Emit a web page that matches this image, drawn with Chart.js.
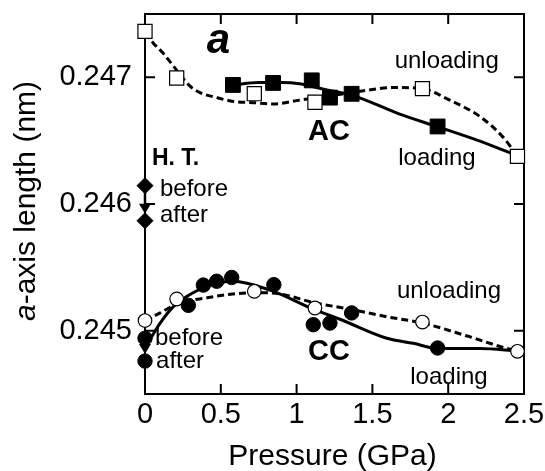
<!DOCTYPE html>
<html>
<head>
<meta charset="utf-8">
<script src="https://cdn.jsdelivr.net/npm/chart.js@4.4.0/dist/chart.umd.min.js"></script>
<style>
body { margin: 0; background: #fff; }
canvas { display: block; }
</style>
</head>
<body>
<canvas id="latticeChart" width="545" height="471"></canvas>
<script>
// a-axis length of AC and CC vs pressure, loading / unloading

// measured points (GPa, nm)
var acLoadP = [0.58, 0.845, 1.10, 1.22, 1.363, 1.93];
var acLoadA = [0.24694, 0.246956, 0.246976, 0.24684, 0.24687, 0.246612];
var acUnloadP = [0, 0.209, 0.721, 1.121, 1.83, 2.457];
var acUnloadA = [0.247363, 0.246995, 0.246871, 0.246803, 0.246911, 0.246376];

var ccLoadP = [0.286, 0.385, 0.473, 0.572, 0.85, 1.11, 1.22, 1.363, 1.93];
var ccLoadA = [0.24520, 0.24536, 0.24539, 0.24542, 0.245363, 0.245047, 0.24506, 0.24514, 0.244863];
var ccUnloadP = [0, 0.209, 0.721, 1.121, 1.83, 2.457];
var ccUnloadA = [0.24508, 0.24525, 0.245311, 0.245179, 0.245068, 0.244837];

// heat treatment, before / after (at 0 GPa)
var htAC = [0.246145, 0.245868];
var htCC = [0.24494, 0.24476];

// guide curves
var acLoadFitP = [0.58, 0.75, 0.9, 1.02, 1.2, 1.363, 1.68, 1.93, 2.2, 2.457];
var acLoadFitA = [0.24694, 0.24696, 0.24696, 0.24695, 0.2469, 0.24686, 0.24671, 0.24661, 0.2465, 0.24638];
var acUnloadFitP = [0, 0.055, 0.12, 0.187, 0.297, 0.363, 0.473, 0.583, 0.715, 0.85, 1.02, 1.2, 1.42, 1.64, 1.83, 2.01, 2.21, 2.36, 2.457];
var acUnloadFitA = [0.24735, 0.24727, 0.24719, 0.24709, 0.24693, 0.24688, 0.24684, 0.24681, 0.2468, 0.24679, 0.24682, 0.24685, 0.24689, 0.24692, 0.24691, 0.24682, 0.24669, 0.24653, 0.24638];
var ccLoadFitP = [0, 0.033, 0.1, 0.187, 0.275, 0.41, 0.58, 0.825, 1.11, 1.286, 1.595, 1.77, 1.93, 2.21, 2.457];
var ccLoadFitA = [0.24486, 0.24493, 0.24506, 0.24519, 0.24527, 0.24535, 0.24539, 0.24532, 0.24517, 0.24509, 0.24494, 0.2449, 0.24486, 0.24486, 0.24484];
var ccUnloadFitP = [0, 0.1, 0.21, 0.41, 0.58, 0.75, 0.89, 1.12, 1.35, 1.595, 1.83, 2.12, 2.385, 2.457];
var ccUnloadFitA = [0.24508, 0.24514, 0.24521, 0.24526, 0.24529, 0.2453, 0.24529, 0.24522, 0.24517, 0.24511, 0.24506, 0.24496, 0.24486, 0.24484];

var pressureTicks = [0, 0.5, 1, 1.5, 2, 2.5];
var lengthLabels = [0.245, 0.246, 0.247];

function pts(xs, ys) {
    return xs.map(function (x, i) { return {x: x, y: ys[i]}; });
}

var FONT = "'Liberation Sans', Arial, Helvetica, sans-serif";

// text notes placed in data coordinates
var notes = [
    {t: 'a', x: 0.485, y: 0.247195, align: 'center', font: 'italic bold 42px ' + FONT},
    {t: 'unloading', x: 1.99, y: 0.247074, align: 'center', font: '24px ' + FONT},
    {t: 'AC', x: 1.214, y: 0.246508, align: 'center', font: 'bold 29px ' + FONT},
    {t: 'loading', x: 1.926, y: 0.246305, align: 'center', font: '24px ' + FONT},
    {t: 'H. T.', x: 0.046, y: 0.24631, align: 'left', font: 'bold 23px ' + FONT},
    {t: 'before', x: 0.099, y: 0.246066, align: 'left', font: '24px ' + FONT},
    {t: 'after', x: 0.099, y: 0.245855, align: 'left', font: '24px ' + FONT},
    {t: 'unloading', x: 2.005, y: 0.245258, align: 'center', font: '24px ' + FONT},
    {t: 'CC', x: 1.214, y: 0.24477, align: 'center', font: 'bold 29px ' + FONT},
    {t: 'loading', x: 2.005, y: 0.24458, align: 'center', font: '24px ' + FONT},
    {t: 'before', x: 0.066, y: 0.244889, align: 'left', font: '24px ' + FONT},
    {t: 'after', x: 0.073, y: 0.244705, align: 'left', font: '24px ' + FONT}
];

var framePlugin = {
    id: 'frame',
    beforeDatasetsDraw: function (chart) {
        var a = chart.chartArea, ctx = chart.ctx;
        var xs = chart.scales.x, ys = chart.scales.y;
        ctx.save();
        ctx.strokeStyle = '#000';
        ctx.lineWidth = 2;
        ctx.beginPath();
        xs.ticks.forEach(function (t) {
            var px = xs.getPixelForValue(t.value);
            ctx.moveTo(px, a.bottom); ctx.lineTo(px, a.bottom - 10);
            ctx.moveTo(px, a.top); ctx.lineTo(px, a.top + 10);
        });
        ys.ticks.forEach(function (t) {
            var py = ys.getPixelForValue(t.value);
            ctx.moveTo(a.left, py); ctx.lineTo(a.left + 10, py);
            ctx.moveTo(a.right, py); ctx.lineTo(a.right - 10, py);
        });
        ctx.stroke();
        ctx.strokeRect(a.left, a.top, a.right - a.left, a.bottom - a.top);
        ctx.restore();
    },
    afterDatasetsDraw: function (chart) {
        var ctx = chart.ctx, a = chart.chartArea;
        var xs = chart.scales.x, ys = chart.scales.y;
        ctx.save();
        ctx.fillStyle = '#000';
        ctx.strokeStyle = '#000';

        // before -> after arrows
        [htAC, htCC].forEach(function (pair) {
            var px = xs.getPixelForValue(0);
            var y0 = ys.getPixelForValue(pair[0]);
            var tip = ys.getPixelForValue(pair[1]) - 7;
            ctx.lineWidth = 2.5;
            ctx.beginPath();
            ctx.moveTo(px, y0);
            ctx.lineTo(px, tip - 6);
            ctx.stroke();
            ctx.beginPath();
            ctx.moveTo(px - 6, tip - 10);
            ctx.lineTo(px + 6, tip - 10);
            ctx.lineTo(px, tip);
            ctx.closePath();
            ctx.fill();
        });

        ctx.textBaseline = 'alphabetic';
        notes.forEach(function (n) {
            ctx.font = n.font;
            ctx.textAlign = n.align;
            ctx.fillText(n.t, xs.getPixelForValue(n.x), ys.getPixelForValue(n.y));
        });

        // axis titles
        ctx.font = '30px ' + FONT;
        ctx.textAlign = 'center';
        ctx.fillText('Pressure (GPa)', (a.left + a.right) / 2 - 2, 465);

        ctx.translate(35, (a.top + a.bottom) / 2 - 3);
        ctx.rotate(-Math.PI / 2);
        ctx.textAlign = 'left';
        ctx.font = 'italic 30px ' + FONT;
        var w1 = ctx.measureText('a').width;
        ctx.font = '30px ' + FONT;
        var w2 = ctx.measureText('-axis length (nm)').width;
        var x0 = -(w1 + w2) / 2;
        ctx.font = 'italic 30px ' + FONT;
        ctx.fillText('a', x0, 0);
        ctx.font = '30px ' + FONT;
        ctx.fillText('-axis length (nm)', x0 + w1, 0);
        ctx.restore();
    }
};

function noScalePadding(s) {
    s.paddingTop = 0; s.paddingBottom = 0;
    s.paddingLeft = 0; s.paddingRight = 0;
}

var ctx = document.getElementById('latticeChart');

var latticeChart = new Chart(ctx, {
    type: 'scatter',
    data: {
        datasets: [{
            label: 'AC loading',
            data: pts(acLoadP, acLoadA),
            pointStyle: 'rect', pointRadius: 10.5,
            backgroundColor: '#000', borderColor: '#000', borderWidth: 1,
            clip: false
        }, {
            label: 'AC unloading',
            data: pts(acUnloadP, acUnloadA),
            pointStyle: 'rect', pointRadius: 10,
            backgroundColor: '#fff', borderColor: '#000', borderWidth: 1.2,
            clip: false
        }, {
            label: 'CC loading',
            data: pts(ccLoadP, ccLoadA),
            pointStyle: 'circle', pointRadius: 7.2,
            backgroundColor: '#000', borderColor: '#000', borderWidth: 1,
            clip: false
        }, {
            label: 'CC unloading',
            data: pts(ccUnloadP, ccUnloadA),
            pointStyle: 'circle', pointRadius: 6.8,
            backgroundColor: '#fff', borderColor: '#000', borderWidth: 1.2,
            clip: false
        }, {
            label: 'AC H.T.',
            data: pts([0, 0], htAC),
            pointStyle: 'rectRot', pointRadius: 8,
            backgroundColor: '#000', borderColor: '#000', borderWidth: 1,
            clip: false
        }, {
            label: 'CC H.T.',
            data: pts([0, 0], htCC),
            pointStyle: 'circle', pointRadius: 7.2,
            backgroundColor: '#000', borderColor: '#000', borderWidth: 1,
            clip: false
        }, {
            label: 'AC unloading fit',
            data: pts(acUnloadFitP, acUnloadFitA),
            showLine: true, pointRadius: 0,
            borderColor: '#000', borderWidth: 3, borderDash: [7, 4],
            cubicInterpolationMode: 'monotone'
        }, {
            label: 'AC loading fit',
            data: pts(acLoadFitP, acLoadFitA),
            showLine: true, pointRadius: 0,
            borderColor: '#000', borderWidth: 3,
            cubicInterpolationMode: 'monotone'
        }, {
            label: 'CC unloading fit',
            data: pts(ccUnloadFitP, ccUnloadFitA),
            showLine: true, pointRadius: 0,
            borderColor: '#000', borderWidth: 3, borderDash: [7, 4],
            cubicInterpolationMode: 'monotone'
        }, {
            label: 'CC loading fit',
            data: pts(ccLoadFitP, ccLoadFitA),
            showLine: true, pointRadius: 0,
            borderColor: '#000', borderWidth: 3,
            cubicInterpolationMode: 'monotone'
        }]
    },
    options: {
        responsive: false,
        animation: false,
        layout: { padding: { top: 14, right: 21, left: 0, bottom: 0 } },
        plugins: { legend: { display: false }, tooltip: { enabled: false } },
        scales: {
            x: {
                type: 'linear', min: 0, max: 2.5,
                grid: { display: false, drawTicks: false },
                border: { display: false },
                afterFit: function (s) { s.height = 77; noScalePadding(s); },
                afterBuildTicks: function (s) {
                    s.ticks = pressureTicks.map(function (v) { return {value: v}; });
                },
                ticks: {
                    color: '#000', padding: 4,
                    font: { family: FONT, size: 29 },
                    maxRotation: 0,
                    callback: function (v) { return String(v); }
                }
            },
            y: {
                type: 'linear', min: 0.2445, max: 0.2475,
                grid: { display: false, drawTicks: false },
                border: { display: false },
                afterFit: function (s) { s.width = 145; noScalePadding(s); },
                ticks: {
                    stepSize: 0.0005, color: '#000', padding: 13,
                    font: { family: FONT, size: 29 },
                    callback: function (v) {
                        for (var i = 0; i < lengthLabels.length; i++) {
                            if (Math.abs(v - lengthLabels[i]) < 1e-7) return lengthLabels[i].toFixed(3);
                        }
                        return null;
                    }
                }
            }
        }
    },
    plugins: [framePlugin]
});
</script>
</body>
</html>
